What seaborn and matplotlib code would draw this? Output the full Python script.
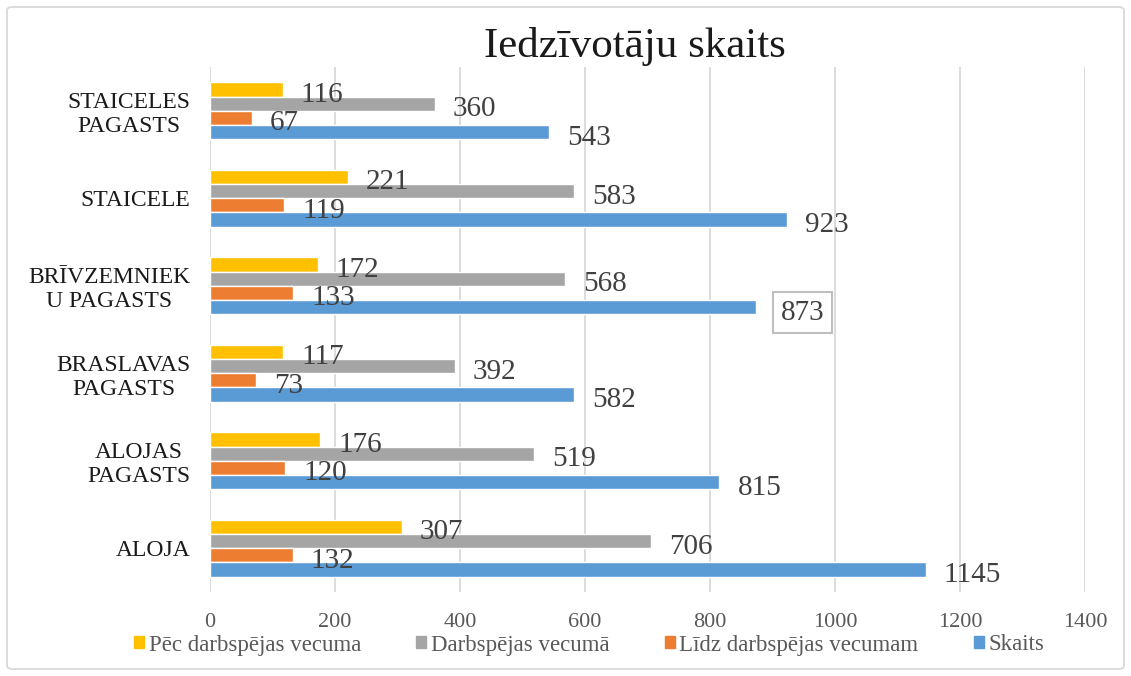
import matplotlib
matplotlib.use("Agg")
import matplotlib.pyplot as plt
from matplotlib.patches import FancyBboxPatch
import seaborn as sns
import pandas as pd

# Data
categories = ["STAICELES\nPAGASTS", "STAICELE", "BRĪVZEMNIEK\nU PAGASTS",
              "BRASLAVAS\nPAGASTS", "ALOJAS\nPAGASTS", "ALOJA"]
series = ["Pēc darbspējas vecuma", "Darbspējas vecumā",
          "Līdz darbspējas vecumam", "Skaits"]
pec_darbspejas = [116, 221, 172, 117, 176, 307]
darbspejas = [360, 583, 568, 392, 519, 706]
lidz_darbspejas = [67, 119, 133, 73, 120, 132]
skaits = [543, 923, 873, 582, 815, 1145]
colors = ["#FFC000", "#A5A5A5", "#ED7D31", "#5B9BD5"]

rows = []
for s, vals in zip(series, [pec_darbspejas, darbspejas, lidz_darbspejas, skaits]):
    for c, v in zip(categories, vals):
        rows.append({"Vieta": c, "Grupa": s, "Vērtība": v})
df = pd.DataFrame(rows)

sns.set_style("white")
plt.rcParams["font.family"] = ["Liberation Serif", "DejaVu Serif"]

fig = plt.figure(figsize=(11.31, 6.76), dpi=100)
ax = fig.add_axes([210 / 1131, 1 - 592 / 676, 875 / 1131, 525 / 676])

sns.barplot(data=df, y="Vieta", x="Vērtība", hue="Grupa", order=categories,
            hue_order=series, palette=colors, orient="h", width=0.65, gap=0,
            ax=ax, legend=True, saturation=1)

ax.set_xlim(0, 1400)
ax.set_xticks(range(0, 1401, 200))
ax.xaxis.grid(True, color="#D9D9D9", linewidth=1.3)
ax.set_axisbelow(True)
for sp in ax.spines.values():
    sp.set_visible(False)
ax.set_xlabel("")
ax.set_ylabel("")
ax.tick_params(axis="x", labelsize=16, colors="#595959", length=0, pad=15)
ax.tick_params(axis="y", labelsize=17, colors="#1a1a1a", length=0, pad=14)
for t in ax.get_yticklabels():
    t.set_multialignment("center")

# value labels
for cont in ax.containers:
    for bar in cont:
        w = bar.get_width()
        yc = bar.get_y() + bar.get_height() / 2
        kw = {}
        if w == 873 and cont is ax.containers[3]:
            kw["bbox"] = dict(boxstyle="square,pad=0.25", fc="white", ec="#BFBFBF", lw=1.5)
        ax.annotate(f"{int(w)}", xy=(w, yc), xytext=(13 if not kw else 18, -4),
                    textcoords="offset points", ha="left", va="center",
                    fontsize=21, color="#404040", **kw)

ax.legend_.remove()
handles = [plt.Rectangle((0, 0), 1, 1, color=c) for c in colors]
fig.legend(handles, series, loc="center", bbox_to_anchor=(589 / 1131, 1 - 645 / 676),
           ncol=4, frameon=False, fontsize=16.5, handlelength=0.45, handleheight=0.45,
           handletextpad=0.2, columnspacing=2.4, labelcolor="#595959")

fig.text(635 / 1131, 1 - 47 / 676, "Iedzīvotāju skaits", ha="center", va="center",
         fontsize=31, color="#1a1a1a")

border = FancyBboxPatch((7 / 1131, 7 / 676), 1117 / 1131, 662 / 676,
                        boxstyle="round,pad=0,rounding_size=0.005",
                        transform=fig.transFigure, fill=False, ec="#D9D9D9", lw=1.3)
fig.patches.append(border)

fig.savefig("out.png", dpi=100)
